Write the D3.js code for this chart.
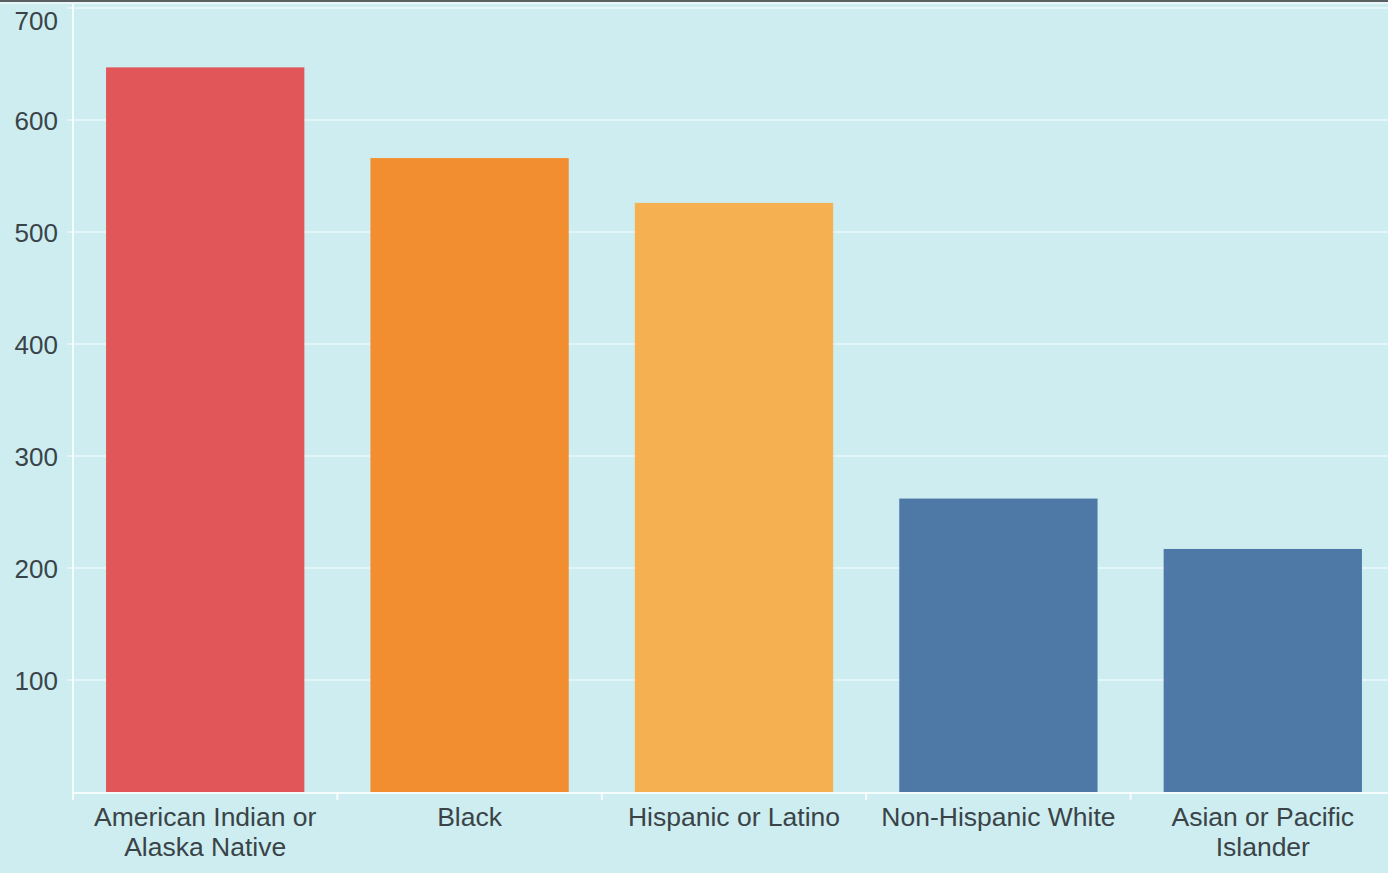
<!DOCTYPE html>
<html>
<head>
<meta charset="utf-8">
<script src="https://cdn.jsdelivr.net/npm/d3@7"></script>
<style>
  html, body { margin: 0; padding: 0; background: #cdedf0; }
  svg { display: block; }
</style>
</head>
<body>
<svg id="chart" width="1388" height="873"></svg>
<script>
// Rates by race / ethnicity
const categories = [
  ["American Indian or", "Alaska Native"],
  ["Black"],
  ["Hispanic or Latino"],
  ["Non-Hispanic White"],
  ["Asian or Pacific", "Islander"]
];
const values = [647, 566, 526, 262, 217];
const barColors = ["#e15759", "#f28e2f", "#f5b051", "#4e79a7", "#4e79a7"];
const yTicks = [100, 200, 300, 400, 500, 600, 700];

const width = 1388, height = 873;
const margin = { top: 8, right: -7, bottom: 81, left: 73 };

const svg = d3.select("#chart");
svg.append("rect").attr("width", width).attr("height", height).attr("fill", "#cdedf0");
svg.append("rect").attr("width", width).attr("height", 2).attr("fill", "#5a5f61");
svg.append("rect").attr("y", 2).attr("width", width).attr("height", 2).attr("fill", "#e9f6f7");

const keys = categories.map(c => c.join(" "));
const x = d3.scaleBand()
  .domain(keys)
  .range([margin.left, width - margin.right])
  .paddingInner(0.25)
  .paddingOuter(0.125);

const y = d3.scaleLinear()
  .domain([0, 700])
  .range([height - margin.bottom, margin.top]);

// horizontal grid
svg.append("g")
  .selectAll("line")
  .data(yTicks)
  .join("line")
  .attr("x1", margin.left - 6)
  .attr("x2", width)
  .attr("y1", d => y(d))
  .attr("y2", d => y(d))
  .attr("stroke", "#ffffff")
  .attr("stroke-opacity", 0.45)
  .attr("stroke-width", 2);

// bars
svg.append("g")
  .selectAll("rect")
  .data(values)
  .join("rect")
  .attr("x", (d, i) => x(keys[i]))
  .attr("width", x.bandwidth())
  .attr("y", d => y(d))
  .attr("height", d => y(0) - y(d))
  .attr("fill", (d, i) => barColors[i]);

// y axis
const yAxis = svg.append("g")
  .attr("transform", `translate(${margin.left},0)`)
  .call(d3.axisLeft(y).tickValues(yTicks).tickSize(0).tickPadding(15));
yAxis.select(".domain").attr("stroke", "#ffffff").attr("stroke-opacity", 0.8).attr("stroke-width", 2)
  .attr("d", `M0,4V${y(0)}`);
yAxis.selectAll("text")
  .attr("font-family", "Liberation Sans, Arial, sans-serif")
  .attr("font-size", 26)
  .attr("fill", "#3a4448")
  .attr("dy", d => d === 700 ? "0.82em" : "0.35em");

// x axis baseline with band separators
const xg = svg.append("g");
xg.append("line")
  .attr("x1", margin.left).attr("x2", width)
  .attr("y1", y(0) + 1).attr("y2", y(0) + 1)
  .attr("stroke", "#ffffff").attr("stroke-opacity", 0.8).attr("stroke-width", 2);
xg.selectAll("line.sep")
  .data(keys)
  .join("line")
  .attr("class", "sep")
  .attr("x1", d => x(d) - x.step() * x.paddingOuter())
  .attr("x2", d => x(d) - x.step() * x.paddingOuter())
  .attr("y1", y(0)).attr("y2", y(0) + 8)
  .attr("stroke", "#ffffff").attr("stroke-opacity", 0.8).attr("stroke-width", 2);

const labels = xg.selectAll("text")
  .data(categories)
  .join("text")
  .attr("x", (d, i) => x(keys[i]) + x.bandwidth() / 2)
  .attr("y", y(0) + 34)
  .attr("text-anchor", "middle")
  .attr("font-family", "Liberation Sans, Arial, sans-serif")
  .attr("font-size", 26.5)
  .attr("fill", "#3a4448");
labels.selectAll("tspan")
  .data(d => d)
  .join("tspan")
  .attr("x", function () { return d3.select(this.parentNode).attr("x"); })
  .attr("dy", (d, i) => i === 0 ? 0 : 30)
  .text(d => d);
</script>
</body>
</html>
